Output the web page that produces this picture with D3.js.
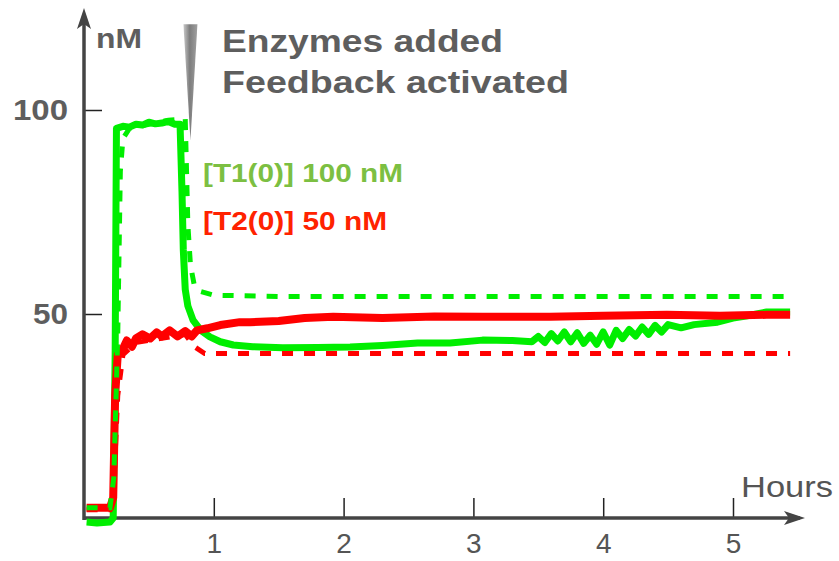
<!DOCTYPE html>
<html lang="en">
<head>
<meta charset="utf-8">
<title>T1 / T2 feedback</title>
<script src="https://cdn.jsdelivr.net/npm/d3@7"></script>
<style>
  body { margin: 0; background: #fff; }
  svg text { font-family: "Liberation Sans", Arial, sans-serif; font-weight: bold; }
</style>
</head>
<body>
<div id="chart"></div>
<script>
// ---- data (hours, nM) ----
var xTicks = [1, 2, 3, 4, 5];
var yTicks = [50, 100];

// T1 measured (green solid)
var t1Time = [0.02, 0.1, 0.2, 0.225, 0.24, 0.25, 0.3, 0.35, 0.4, 0.45, 0.5, 0.55, 0.6, 0.65, 0.7, 0.74,
  0.755, 0.765, 0.78, 0.8, 0.84, 0.9, 0.97, 1.05, 1.15, 1.3, 1.53, 1.8, 2.05, 2.3, 2.57, 2.82, 3.07, 3.3,
  3.45, 3.5, 3.55, 3.6, 3.65, 3.7, 3.75, 3.8, 3.85, 3.9, 3.95, 4.0, 4.05, 4.1, 4.15, 4.2, 4.25, 4.3,
  4.35, 4.4, 4.45, 4.5, 4.6, 4.7, 4.88, 5.0, 5.1, 5.26, 5.44];
var t1Meas = [-1, -1.2, -1, 0, 40, 95.5, 96, 95.8, 96.5, 96.3, 97, 96.6, 96.8, 97.2, 96.5, 96.5,
  80, 65.7, 56, 52, 48.5, 46, 44.4, 43.2, 42.4, 42, 41.7, 41.8, 41.9, 42.3, 42.9, 42.9, 43.6, 43.5,
  43.2, 44.5, 43, 45.2, 43.4, 45.6, 43.2, 45.4, 42.8, 44.8, 42.6, 45.6, 42.4, 46, 44, 46.2, 44.6, 46.8,
  45, 47.2, 45.6, 47.4, 46.6, 47.4, 48, 49, 49.5, 50.5, 50.5];

// T1 model (green dashed)
var t1ModelTime = [0.02, 0.2, 0.23, 0.26, 0.28, 0.3, 0.35, 0.5, 0.65, 0.78, 0.79, 0.8, 0.82, 0.85, 0.9, 1.0, 1.5, 3, 5.44];
var t1Model = [2.5, 2.5, 10, 45, 85, 93, 95.5, 96.5, 97.5, 97.8, 85, 72, 62, 57, 55.5, 54.6, 54.3, 54.3, 54.3];

// T2 measured (red solid)
var t2Time = [0.02, 0.1, 0.2, 0.225, 0.24, 0.26, 0.3, 0.33, 0.37, 0.4, 0.45, 0.51, 0.56, 0.6, 0.66, 0.72, 0.78,
  0.83, 0.87, 0.95, 1.05, 1.2, 1.28, 1.5, 1.7, 1.92, 2.3, 2.7, 3.07, 3.59, 4.0, 4.49, 4.9, 5.26, 5.44];
var t2Meas = [2.5, 2.5, 2.5, 5, 30, 40, 41.5, 43.5, 42, 44, 45, 44, 45.5, 44.5, 46, 44.5, 45.8,
  44.5, 46, 46.5, 47.3, 48, 48, 48.3, 49, 49.3, 49, 49.4, 49.3, 49.3, 49.6, 49.8, 49.6, 49.8, 49.8];

// T2 model (red dashed)
var t2ModelTime = [0.02, 0.2, 0.23, 0.26, 0.3, 0.4, 0.78, 0.85, 0.93, 5.44];
var t2Model = [2, 2, 8, 30, 40, 43, 45, 42, 40.3, 40.3];

var enzymeTime = 0.82;

// ---- layout ----
var width = 839, height = 561;
var x = d3.scaleLinear().domain([0, 5]).range([84, 733]);
var y = d3.scaleLinear().domain([0, 100]).range([518, 110]);

var svg = d3.select("#chart").append("svg")
  .attr("width", width).attr("height", height);

var axisColor = "#444";
var textColor = "#5e5e5e";
var font = "'Liberation Sans', Arial, sans-serif";

var defs = svg.append("defs");
var grad = defs.append("linearGradient").attr("id", "wedge")
  .attr("x1", "0").attr("x2", "1").attr("y1", "0").attr("y2", "0");
grad.append("stop").attr("offset", "0").attr("stop-color", "#c8c8c8");
grad.append("stop").attr("offset", "0.45").attr("stop-color", "#7d7d7d");
grad.append("stop").attr("offset", "1").attr("stop-color", "#a0a0a0");

// X axis (ticks pointing up)
var gx = svg.append("g")
  .attr("transform", "translate(0," + y(0) + ")")
  .call(d3.axisBottom(x).tickValues(xTicks).tickSizeInner(-20).tickSizeOuter(0).tickPadding(15)
    .tickFormat(d3.format("d")));
gx.select(".domain").remove();
gx.selectAll(".tick line").attr("stroke", "#222").attr("stroke-width", 1.5);
gx.selectAll(".tick text").attr("fill", "#555").style("font-family", font).style("font-size", "28px")
  .style("font-weight", "normal");

// Y axis (ticks pointing right)
var gy = svg.append("g")
  .attr("transform", "translate(" + x(0) + ",0)")
  .call(d3.axisLeft(y).tickValues(yTicks).tickSizeInner(-18).tickSizeOuter(0).tickPadding(16));
gy.select(".domain").remove();
gy.selectAll(".tick line").attr("stroke", "#222").attr("stroke-width", 1.5);
gy.selectAll(".tick text").attr("fill", textColor).style("font-family", font).style("font-size", "29px")
  .style("font-weight", "bold")
  .attr("textLength", function(d) { return d === 100 ? 55 : 35; })
  .attr("lengthAdjust", "spacingAndGlyphs");

// axis lines with arrows
svg.append("line").attr("x1", x(0)).attr("x2", 800).attr("y1", y(0)).attr("y2", y(0))
  .attr("stroke", axisColor).attr("stroke-width", 3.5);
svg.append("path").attr("d", "M805," + y(0) + " L784," + (y(0) - 7) + " L789," + y(0) + " L784," + (y(0) + 7) + " Z")
  .attr("fill", axisColor);
svg.append("line").attr("x1", x(0)).attr("x2", x(0)).attr("y1", y(0) + 2).attr("y2", 14)
  .attr("stroke", axisColor).attr("stroke-width", 3.5);
svg.append("path").attr("d", "M" + x(0) + ",8 L" + (x(0) - 7) + ",29 L" + x(0) + ",24 L" + (x(0) + 7) + ",29 Z")
  .attr("fill", axisColor);

// axis titles
svg.append("text").attr("x", 96).attr("y", 48).attr("fill", textColor)
  .style("font-size", "28px").attr("textLength", 46).attr("lengthAdjust", "spacingAndGlyphs").text("nM");
svg.append("text").attr("x", 741).attr("y", 497).attr("fill", "#555")
  .style("font-size", "30px").style("font-weight", "normal")
  .attr("textLength", 92).attr("lengthAdjust", "spacingAndGlyphs").text("Hours");

// enzyme wedge
var ex = x(enzymeTime);
svg.append("path")
  .attr("d", "M" + (ex - 7) + "," + y(121) + " L" + (ex + 7) + "," + y(121) + " L" + ex + "," + y(92.5) + " Z")
  .attr("fill", "url(#wedge)");

svg.append("text").attr("x", 222).attr("y", 52).attr("fill", textColor)
  .style("font-size", "32px").attr("textLength", 281).attr("lengthAdjust", "spacingAndGlyphs")
  .text("Enzymes added");
svg.append("text").attr("x", 222).attr("y", 93).attr("fill", textColor)
  .style("font-size", "32px").attr("textLength", 347).attr("lengthAdjust", "spacingAndGlyphs")
  .text("Feedback activated");

// legend labels
svg.append("text").attr("x", 203).attr("y", 182).attr("fill", "#7cbf42")
  .style("font-size", "25px").attr("textLength", 200).attr("lengthAdjust", "spacingAndGlyphs")
  .text("[T1(0)] 100 nM");
svg.append("text").attr("x", 203).attr("y", 230).attr("fill", "#ff2200")
  .style("font-size", "25px").attr("textLength", 184).attr("lengthAdjust", "spacingAndGlyphs")
  .text("[T2(0)] 50 nM");

// curves
function series(times, vals) {
  return times.map(function(t, i) { return [t, vals[i]]; });
}
var line = d3.line()
  .x(function(d) { return x(d[0]); })
  .y(function(d) { return y(d[1]); });

svg.append("path").datum(series(t1Time, t1Meas))
  .attr("fill", "none").attr("stroke", "#00ee00").attr("stroke-width", 7)
  .attr("stroke-linejoin", "round").attr("d", line);
svg.append("path").datum(series(t2ModelTime, t2Model))
  .attr("fill", "none").attr("stroke", "#ff0000").attr("stroke-width", 5)
  .attr("stroke-dasharray", "11,11").attr("d", line);
svg.append("path").datum(series(t2Time, t2Meas))
  .attr("fill", "none").attr("stroke", "#ff0000").attr("stroke-width", 8)
  .attr("stroke-linejoin", "round").attr("d", line);
svg.append("path").datum(series(t1ModelTime, t1Model))
  .attr("fill", "none").attr("stroke", "#00ee00").attr("stroke-width", 5)
  .attr("stroke-dasharray", "11,11").attr("d", line);
</script>
</body>
</html>
